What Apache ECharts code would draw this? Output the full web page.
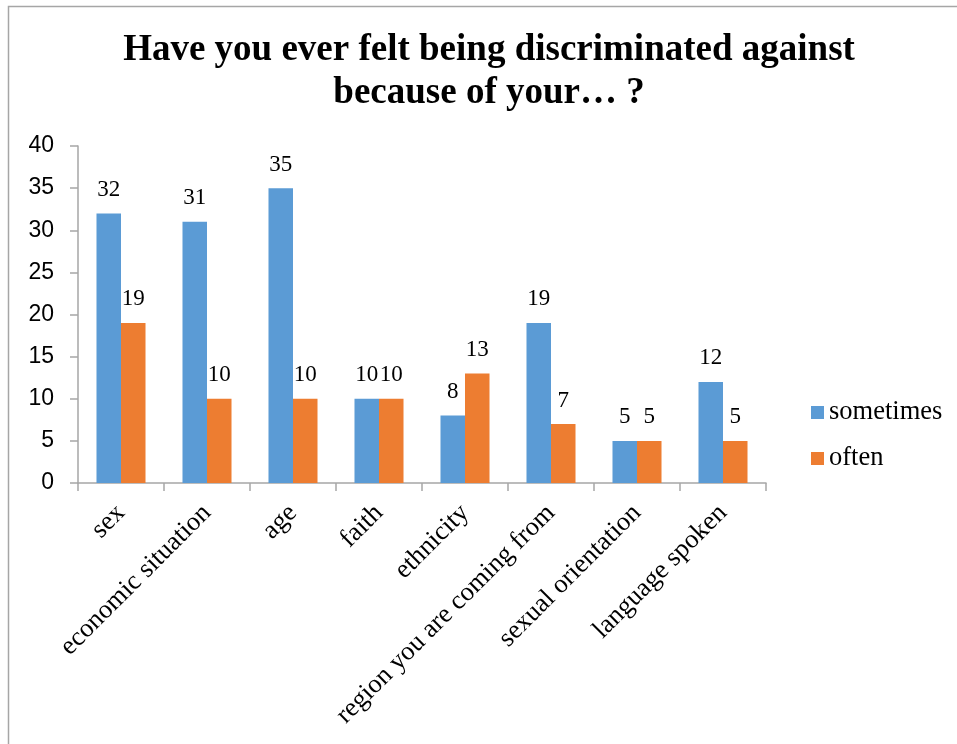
<!DOCTYPE html>
<html>
<head>
<meta charset="utf-8">
<script src="https://cdn.jsdelivr.net/npm/echarts@6/dist/echarts.min.js"></script>
<style>html,body{margin:0;padding:0;background:#fff;}#c{width:957px;height:744px;}</style>
</head>
<body>
<div id="c"></div>
<script>
const titleText = 'Have you ever felt being discriminated against\nbecause of your… ?';
const categories = ['sex', 'economic situation', 'age', 'faith', 'ethnicity', 'region you are coming from', 'sexual orientation', 'language spoken'];
const sometimes = [32, 31, 35, 10, 8, 19, 5, 12];
const often = [19, 10, 10, 10, 13, 7, 5, 5];
const yTicks = { min: 0, max: 40, interval: 5 };

const serif = '"Liberation Serif", "Times New Roman", serif';
const sans = '"Liberation Sans", Arial, sans-serif';
const chart = echarts.init(document.getElementById('c'));
const labelCfg = { show: true, position: 'top', distance: 12, color: '#000', fontFamily: serif, fontSize: 23 };
chart.setOption({
  animation: false,
  backgroundColor: '#fff',
  graphic: [{ type: 'rect', shape: { x: 8.5, y: 6.5, width: 1200, height: 1200 }, style: { fill: 'none', stroke: '#A6A6A6', lineWidth: 1.5 }, silent: true }],
  title: {
    text: titleText, left: 489, textAlign: 'center', top: 29, padding: 0,
    textStyle: { fontFamily: serif, fontWeight: 'bold', fontSize: 37, lineHeight: 43, color: '#000' }
  },
  legend: {
    orient: 'vertical', left: 806, top: 394, itemWidth: 13, itemHeight: 13, itemGap: 19,
    icon: 'rect', textStyle: { fontFamily: serif, fontSize: 26.5, color: '#000', padding: [0, 0, 0, 0] },
    data: ['sometimes', 'often']
  },
  grid: { left: 78, right: 191, top: 146, bottom: 261, containLabel: false },
  xAxis: {
    type: 'category', data: categories,
    axisLine: { lineStyle: { color: '#A6A6A6', width: 1.5 } },
    axisTick: { show: true, length: 8, lineStyle: { color: '#A6A6A6', width: 1.5 } },
    axisLabel: { rotate: 45, interval: 0, margin: 26, fontFamily: serif, fontSize: 26.5, color: '#000' }
  },
  yAxis: {
    type: 'value', min: yTicks.min, max: yTicks.max, interval: yTicks.interval,
    splitLine: { show: false },
    axisLine: { show: true, lineStyle: { color: '#A6A6A6', width: 1.5 } },
    axisTick: { show: true, length: 8, lineStyle: { color: '#A6A6A6', width: 1.5 } },
    axisLabel: { margin: 24, fontFamily: sans, fontSize: 23, color: '#000' }
  },
  series: [
    { name: 'sometimes', type: 'bar', data: sometimes, barGap: '0%', barCategoryGap: '43%', itemStyle: { color: '#5B9BD5' }, label: labelCfg },
    { name: 'often', type: 'bar', data: often, itemStyle: { color: '#ED7D31' }, label: labelCfg }
  ]
});
</script>
</body>
</html>
